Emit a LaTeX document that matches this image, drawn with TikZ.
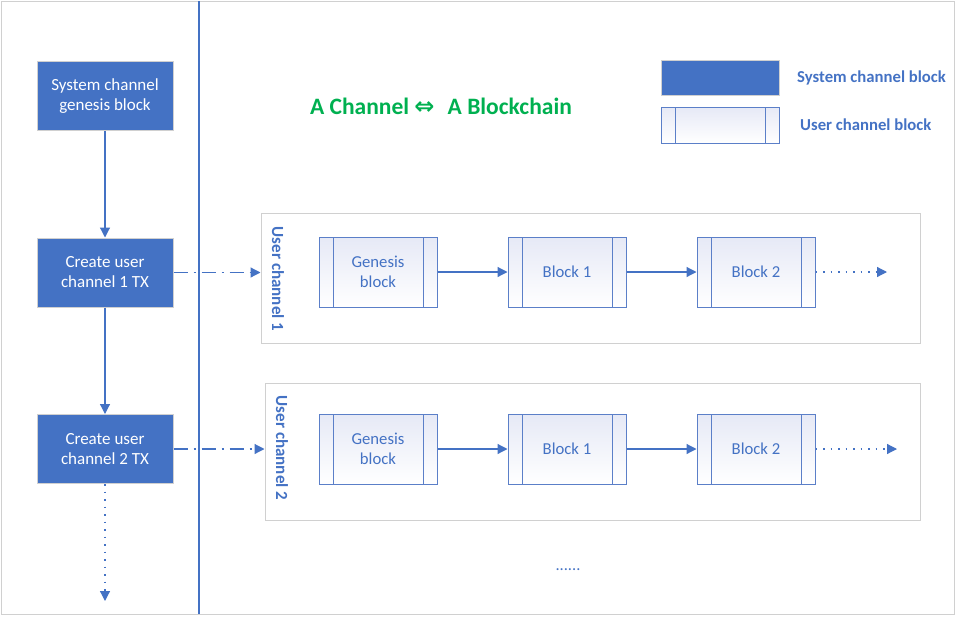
\documentclass[tikz,border=0pt]{standalone}
\usepackage{fontspec}
\setmainfont{Carlito}
\newfontfamily\symfont{DejaVu Sans}
\usetikzlibrary{arrows.meta}
\definecolor{bl}{HTML}{4472C4}
\definecolor{blline}{HTML}{5B7FC8}
\definecolor{grn}{HTML}{00B050}
\definecolor{gry}{HTML}{D0D0D0}
\definecolor{lav}{HTML}{E6E9F6}
\tikzset{
  sysbox/.style={draw=gry, line width=1pt, fill=bl, text=white, minimum width=136pt, minimum height=69pt, inner sep=0pt, align=center, font=\fontsize{17}{20}\selectfont},
  userblock/.style={draw=blline, line width=1pt, top color=lav, bottom color=white, text=bl, minimum width=118pt, minimum height=70pt, inner sep=0pt, align=center, font=\fontsize{16.7}{20}\selectfont,
    path picture={\draw[blline, line width=1pt] ([xshift=14pt]path picture bounding box.north west) -- ([xshift=14pt]path picture bounding box.south west);
      \draw[blline, line width=1pt] ([xshift=-14pt]path picture bounding box.north east) -- ([xshift=-14pt]path picture bounding box.south east);}},
  container/.style={draw=gry, line width=1pt, fill=white},
  flow/.style={draw=bl, line width=1.2pt, -{Triangle[length=10pt,width=10pt]}},
  dashdot/.style={flow, dash pattern=on 14pt off 6pt on 2pt off 6pt},
  dots/.style={flow, dash pattern=on 1.5pt off 6pt},
  chlabel/.style={text=bl, font=\bfseries\fontsize{17}{19}\selectfont, rotate=-90, inner sep=0pt},
  legtext/.style={text=bl, font=\bfseries\fontsize{16.7}{19}\selectfont, inner sep=0pt},
}
\begin{document}
\begin{tikzpicture}[x=1pt,y=-1pt]
\useasboundingbox (0,0) rectangle (956,616);
\draw[gry, line width=1pt] (1,1) rectangle (954,614);
\draw[bl, line width=1.5pt] (199,1) -- (199,614);

% left column
\node[sysbox] (s0) at (105,96) {System channel\\genesis block};
\node[sysbox] (s1) at (105,272.5) {Create user\\channel 1 TX};
\node[sysbox] (s2) at (105,449) {Create user\\channel 2 TX};
\coordinate (send) at (105,601);
\draw[flow] (s0) -- (s1);
\draw[flow] (s1) -- (s2);
\draw[dots] (s2) -- (send);

% title
\node[text=grn, font=\bfseries\fontsize{23.5}{26}\selectfont, inner sep=0pt] (title) at (441,106) {A Channel {\symfont\fontsize{24}{26}\selectfont ⇔}\,\, A Blockchain};

% legend
\node[draw=gry, line width=1pt, fill=bl, minimum width=118pt, minimum height=35pt, inner sep=0pt] (legsys) at (720,77.5) {};
\node[userblock, minimum height=36pt] (leguser) at (720,125) {};
\node[legtext, anchor=west] (legsyst) at (797,78) {System channel block};
\node[legtext, anchor=west] (legusert) at (800,125) {User channel block};

% channel 1
\node[container, minimum width=659pt, minimum height=130pt, inner sep=0pt] (c1) at (590.5,278) {};
\node[chlabel] (c1l) at (278,279) {User channel 1};
\node[userblock] (g1) at (378,272) {Genesis\\block};
\node[userblock] (b11) at (567,272) {Block 1};
\node[userblock] (b12) at (756,272) {Block 2};
\coordinate (e1) at (887,272);
\draw[flow] (g1) -- (b11);
\draw[flow] (b11) -- (b12);
\draw[dots] (b12) -- (e1);
\draw[dashdot] (s1.east) -- (c1.west |- s1.east);

% channel 2
\node[container, minimum width=655pt, minimum height=137pt, inner sep=0pt] (c2) at (592.5,451.5) {};
\node[chlabel] (c2l) at (282,448) {User channel 2};
\node[userblock] (g2) at (378,449) {Genesis\\block};
\node[userblock] (b21) at (567,449) {Block 1};
\node[userblock] (b22) at (756,449) {Block 2};
\coordinate (e2) at (897,449);
\draw[flow] (g2) -- (b21);
\draw[flow] (b21) -- (b22);
\draw[dots] (b22) -- (e2);
\draw[dashdot] (s2.east) -- (c2.west |- s2.east);

\node[text=bl, font=\fontsize{16.5}{18}\selectfont, inner sep=0pt] (more) at (568,570) {......};
\end{tikzpicture}
\end{document}
